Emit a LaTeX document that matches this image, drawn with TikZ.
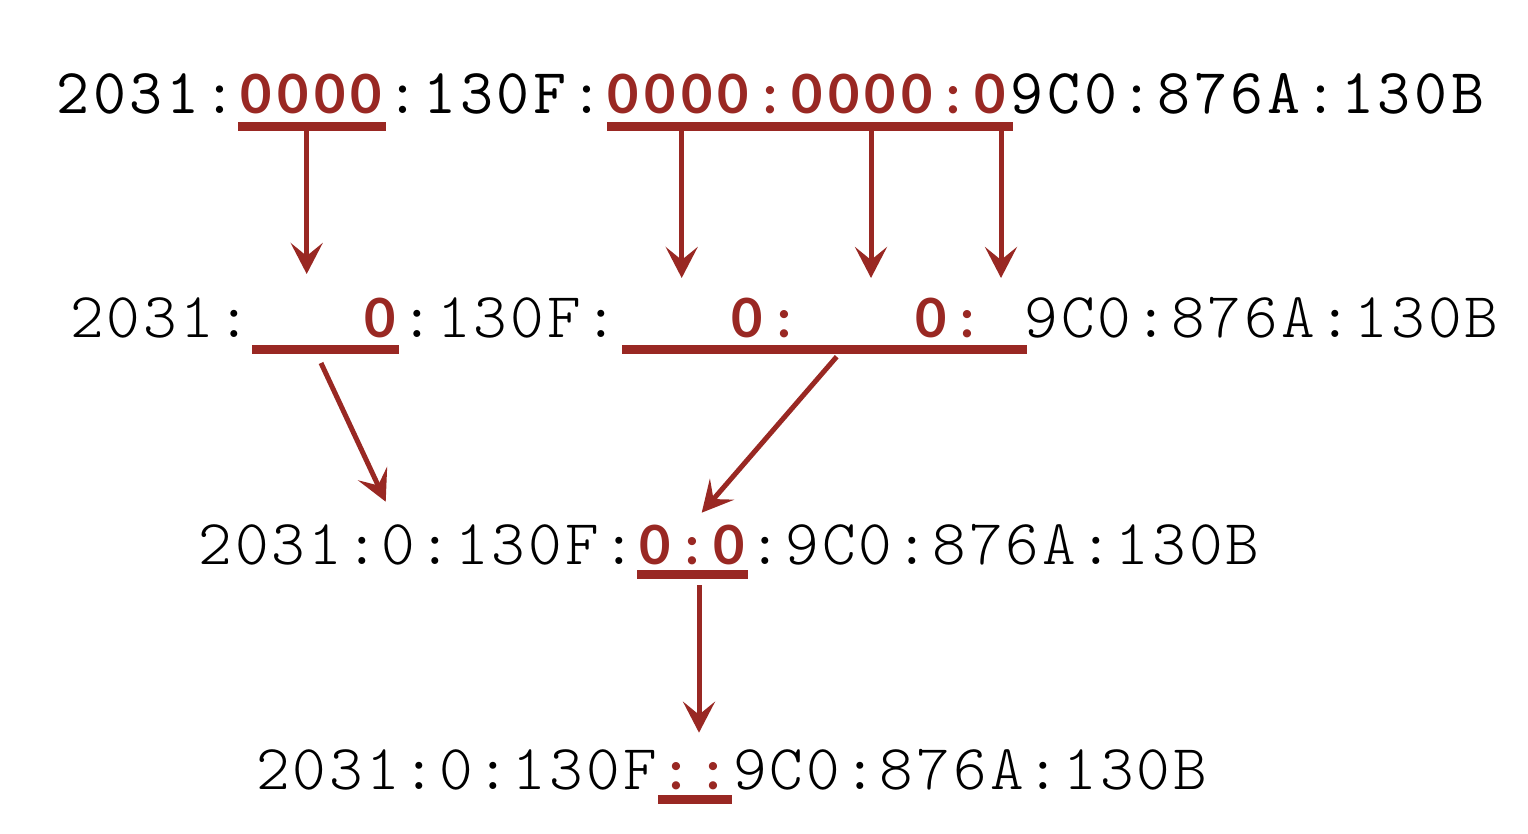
\documentclass[tikz,border=0pt]{standalone}
\usepackage{fontspec}
\usetikzlibrary{arrows.meta}
\newfontfamily\heavymono{Latin Modern Mono}
\newfontfamily\plainmono{Latin Modern Mono Light}
\newfontfamily\redsans{Lato}
\definecolor{zred}{RGB}{153,40,35}
\newlength\cw
\setlength\cw{36.7pt}
% plain characters, each in a cell of the mono pitch
\def\mono#1{\monostep#1\relax}
\def\monostep#1{\ifx#1\relax\else\makebox[\cw][c]{#1}\expandafter\monostep\fi}
% one highlighted character in a cell of the mono pitch
\newcommand\rc[1]{\makebox[\cw][c]{\fontsize{54}{62}\selectfont\redsans\bfseries\color{zred}#1}}
% blank cells
\newcommand\gap[1]{\hspace*{#1\cw}}
\tikzset{
  addr/.style={anchor=base west, inner sep=0pt, text=black},
  uline/.style={draw=zred, line width=9pt, line cap=butt},
  zarrow/.style={draw=zred, line width=5pt,
    -{Stealth[length=31pt,width=32pt,inset=13pt]}}
}
\begin{document}
\begin{tikzpicture}[x=1pt,y=-1pt]
\useasboundingbox[fill=white] (0,0) rectangle (1528,834);

% address lines
\node[addr, font=\fontsize{64}{72}\selectfont\heavymono] (full) at (54.5,114)
  {\mono{2031:}\rc0\rc0\rc0\rc0\mono{:130F:}\rc0\rc0\rc0\rc0\rc:\rc0\rc0\rc0\rc0\rc:\rc0\mono{9C0:876A:130B}};
\node[addr, font=\fontsize{64}{72}\selectfont\plainmono] (lead) at (68.5,337)
  {\mono{2031:}\gap{3}\rc0\mono{:130F:}\gap{3}\rc0\rc:\gap{3}\rc0\rc:\gap{1}\mono{9C0:876A:130B}};
\node[addr, font=\fontsize{64}{72}\selectfont\plainmono] (short) at (196.6,564)
  {\mono{2031:0:130F:}\rc0\rc:\rc0\mono{:9C0:876A:130B}};
\node[addr, font=\fontsize{64}{72}\selectfont\plainmono] (comp) at (254.3,789)
  {\mono{2031:0:130F}\rc:\rc:\mono{9C0:876A:130B}};

% underline end points
\coordinate (u1aL) at (238,127);   \coordinate (u1aR) at (386,127);
\coordinate (u1bL) at (607,127);   \coordinate (u1bR) at (1013,127);
\coordinate (u2aL) at (252,349.5); \coordinate (u2aR) at (399,349.5);
\coordinate (u2bL) at (622,349.5); \coordinate (u2bR) at (1027,349.5);
\coordinate (u3L) at (637,574.5);  \coordinate (u3R) at (748,574.5);
\coordinate (u4L) at (658,799);    \coordinate (u4R) at (732,799);

\draw[uline] (u1aL) -- (u1aR);
\draw[uline] (u1bL) -- (u1bR);
\draw[uline] (u2aL) -- (u2aR);
\draw[uline] (u2bL) -- (u2bR);
\draw[uline] (u3L) -- (u3R);
\draw[uline] (u4L) -- (u4R);

% arrow ends
\coordinate (s1) at (306.7,131); \coordinate (t1) at (306.7,274);
\coordinate (s2) at (681.7,131); \coordinate (t2) at (681.7,278);
\coordinate (s3) at (871,131);   \coordinate (t3) at (871,278);
\coordinate (s4) at (1001,131);  \coordinate (t4) at (1001,278);
\coordinate (s5) at (321,363);   \coordinate (t5) at (385.7,501.7);
\coordinate (s6) at (836.7,356.7); \coordinate (t6) at (701.7,512.7);
\coordinate (s7) at (699,585);   \coordinate (t7) at (699,732.7);

\draw[zarrow] (s1) -- (t1);
\draw[zarrow] (s2) -- (t2);
\draw[zarrow] (s3) -- (t3);
\draw[zarrow] (s4) -- (t4);
\draw[zarrow] (s5) -- (t5);
\draw[zarrow] (s6) -- (t6);
\draw[zarrow] (s7) -- (t7);
\end{tikzpicture}
\end{document}
